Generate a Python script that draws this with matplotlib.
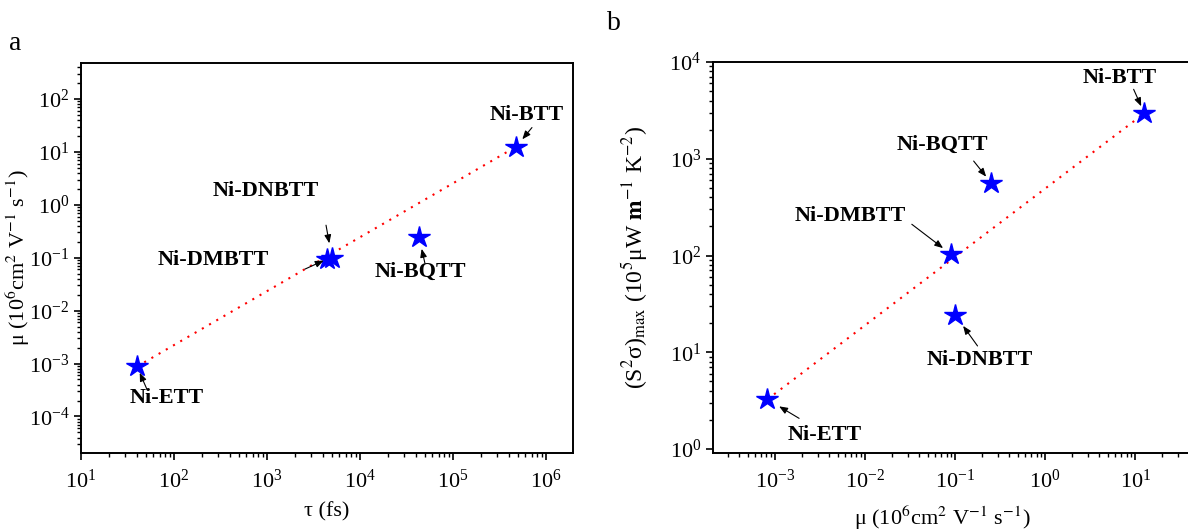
import matplotlib
matplotlib.use('Agg')
import matplotlib.pyplot as plt
import matplotlib.ticker as mticker
import numpy as np

plt.rcParams['font.family'] = ['Liberation Serif', 'DejaVu Serif']
plt.rcParams['mathtext.fontset'] = 'stix'

# panel a: relaxation time vs mobility
names_a = ['Ni-ETT', 'Ni-DMBTT', 'Ni-DNBTT', 'Ni-BQTT', 'Ni-BTT']
tau = [40, 4400, 5000, 43000, 480000]
mu_a = [8.8e-4, 0.094, 0.098, 0.25, 12.6]
fit_a_x = [40, 480000]
fit_a_y = [8.8e-4, 12.6]

# panel b: mobility vs max power factor
names_b = ['Ni-ETT', 'Ni-DMBTT', 'Ni-DNBTT', 'Ni-BQTT', 'Ni-BTT']
mu_b = [8.2e-4, 0.09, 0.1, 0.25, 12.6]
pf = [3.26, 103, 24.3, 565, 2950]
fit_b_x = [8.2e-4, 12.6]
fit_b_y = [3.26, 2950]

# label layout: text offset, arrow tail offset, arrow head offset (pixels from star)
layout_a = {
    'Ni-ETT': ((30, -32), (10, -23), (1.6, -6.6)),
    'Ni-DMBTT': ((-114, -1), (-22, -10), (0.6, -3.4)),
    'Ni-DNBTT': ((-66, 67), (-6, 33), (-1.7, 15)),
    'Ni-BQTT': ((1.5, -35), (6, -26.6), (2, -12.3)),
    'Ni-BTT': ((10, 32), (15.6, 19), (6.6, 6.7)),
}
layout_b = {
    'Ni-ETT': ((57, -36), (31.7, -19), (12.4, -5.7)),
    'Ni-DMBTT': ((-101, 38), (-39.3, 30), (-9.3, 4)),
    'Ni-DNBTT': ((25, -45), (22.3, -31), (6.7, -11.7)),
    'Ni-BQTT': ((-49, 38), (-17.4, 21.7), (-4, 6.7)),
    'Ni-BTT': ((-25, 35), (-10.7, 24), (-4, 6.6)),
}

DPI = 100
fig = plt.figure(figsize=(11.88, 5.31), dpi=DPI)
ax1 = fig.add_axes([0.0682, 0.1469, 0.4141, 0.7345])
ax2 = fig.add_axes([0.6002, 0.1475, 0.41, 0.7357])


def label_points(ax, xs, ys, names, layout):
    for x, y, n in zip(xs, ys, names):
        (tx, ty), (ax_, ay_), (hx, hy) = layout[n]
        ax.annotate(n, xy=(x, y), xytext=(tx, ty), textcoords='offset pixels',
                    ha='center', va='center', fontsize=16, fontweight='bold')
        ax.annotate('', xy=(x, y), xytext=(ax_, ay_), textcoords='offset pixels',
                    arrowprops=dict(arrowstyle='-|>,head_length=0.5,head_width=0.2',
                                    color='black', lw=0.8, shrinkA=0,
                                    shrinkB=np.hypot(hx, hy) * 72 / DPI))


def style_axis(ax):
    ax.set_xscale('log')
    ax.set_yscale('log')
    for s in ax.spines.values():
        s.set_linewidth(1.4)
    ax.tick_params(which='major', direction='out', length=5, width=1.2,
                   labelsize=16, top=False, right=False)
    ax.tick_params(axis='x', which='major', pad=7)
    ax.tick_params(which='minor', direction='out', length=3, width=1.0,
                   top=False, right=False)
    for a in (ax.xaxis, ax.yaxis):
        a.set_major_locator(mticker.LogLocator(base=10, numticks=20))
        a.set_minor_locator(mticker.LogLocator(base=10, subs=np.arange(2, 10), numticks=20))
        a.set_minor_formatter(mticker.NullFormatter())


# panel a
style_axis(ax1)
ax1.plot(fit_a_x, fit_a_y, color='red', linestyle=(0, (1, 3)), lw=1.5, zorder=2)
ax1.plot(tau, mu_a, linestyle='none', marker='*', color='blue', markersize=16, zorder=3)
ax1.set_xlim(10, 10**6.29)
ax1.set_ylim(10**-4.69, 10**2.68)
label_points(ax1, tau, mu_a, names_a, layout_a)
ax1.set_xlabel('τ (fs)', fontsize=16)
ax1.set_ylabel('μ (10$^6$cm$^2$ V$^{-1}$ s$^{-1}$)', fontsize=16)
ax1.xaxis.set_label_coords(0.5, -0.125)
ax1.yaxis.set_label_coords(-0.1, 0.5)

# panel b
style_axis(ax2)
ax2.spines['right'].set_visible(False)
ax2.plot(fit_b_x, fit_b_y, color='red', linestyle=(0, (1, 3)), lw=1.5, zorder=2)
ax2.plot(mu_b, pf, linestyle='none', marker='*', color='blue', markersize=16, zorder=3)
ax2.set_xlim(10**-3.69, 10**1.72)
ax2.set_ylim(10**-0.038, 10**4)
label_points(ax2, mu_b, pf, names_b, layout_b)
ax2.set_xlabel('μ (10$^{6}$cm$^{2}$ V$^{-1}$ s$^{-1}$)', fontsize=16)
ax2.set_ylabel('(S$^2$σ)$_{\\mathrm{max}}$ (10$^5$μW $\\mathbf{m}^{-1}$ K$^{-2}$)', fontsize=17)
ax2.xaxis.set_label_coords(0.47, -0.13)
ax2.yaxis.set_label_coords(-0.13, 0.5)

fig.text(0.0126, 0.919, 'a', fontsize=20, ha='center', va='center')
fig.text(0.517, 0.955, 'b', fontsize=20, ha='center', va='center')

fig.savefig('out.png', dpi=DPI)
